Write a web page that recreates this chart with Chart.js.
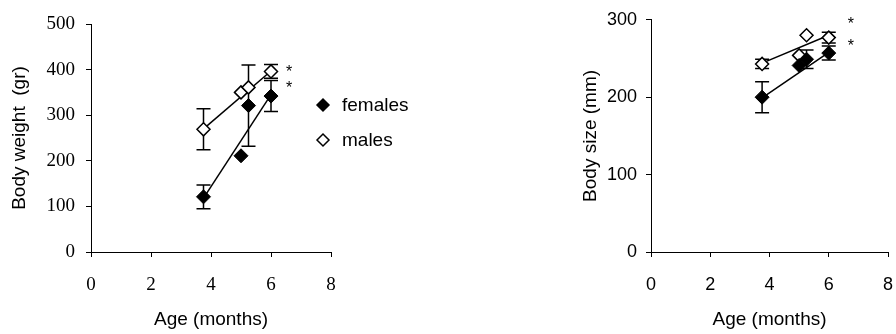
<!DOCTYPE html>
<html>
<head>
<meta charset="utf-8">
<script src="https://cdn.jsdelivr.net/npm/chart.js@4"></script>
<style>
html, body { margin: 0; padding: 0; background: #fff; }
.wrap { display: flex; width: 896px; height: 334px; }
.box { position: relative; width: 448px; height: 334px; }
</style>
</head>
<body>
<div class="wrap">
  <div class="box"><canvas id="weight"></canvas></div>
  <div class="box"><canvas id="size"></canvas></div>
</div>
<script>
// ages sampled (months)
const ages = [3.75, 5, 5.25, 6];
const trendAges = [3.75, 6];
const xTicks = [0, 2, 4, 6, 8];

// body weight (gr)
const femaleWeight = [121, 211, 321, 342];
const femaleWeightErr = [26, 0, 89, 34];
const maleWeight = [269, 350, 361, 396];
const maleWeightErr = [45, 0, 0, 15];
const femaleWeightTrend = [118, 345];
const maleWeightTrend = [270, 397];
const weightStarAge = [6.6, 6.6];
const weightStarVal = [397, 361];

// body size (mm)
const femaleSize = [200, 241, 249, 257];
const femaleSizeErr = [20, 0, 12, 9];
const maleSize = [243, 254, 280, 277];
const maleSizeErr = [6, 0, 0, 7];
const femaleSizeTrend = [199, 258];
const maleSizeTrend = [244, 280];
const sizeStarAge = [6.75, 6.75];
const sizeStarVal = [296, 268];

const legendLabels = ['females', 'males'];

const SANS = "'Liberation Sans', Arial, sans-serif";
const SERIF = "'Liberation Serif', 'Times New Roman', serif";

function pts(xs, ys) {
    return xs.map((x, i) => ({ x: x, y: ys[i] }));
}

const errorBars = {
    id: 'errorBars',
    beforeDatasetsDraw(chart, args, opts) {
        const { ctx, scales: { x, y } } = chart;
        ctx.save();
        ctx.strokeStyle = '#000';
        ctx.lineWidth = 1.5;
        opts.series.forEach((s) => {
            s.values.forEach((v, i) => {
                const e = s.errors[i];
                if (!e) return;
                const px = x.getPixelForValue(ages[i]);
                const top = y.getPixelForValue(v + e);
                const bot = y.getPixelForValue(v - e);
                ctx.beginPath();
                ctx.moveTo(px, top); ctx.lineTo(px, bot);
                ctx.moveTo(px - 7, top); ctx.lineTo(px + 7, top);
                ctx.moveTo(px - 7, bot); ctx.lineTo(px + 7, bot);
                ctx.stroke();
            });
        });
        ctx.restore();
    },
    afterDatasetsDraw(chart, args, opts) {
        const { ctx, scales: { x, y } } = chart;
        ctx.save();
        ctx.fillStyle = '#000';
        ctx.font = '16px ' + SANS;
        ctx.textAlign = 'center';
        ctx.textBaseline = 'alphabetic';
        opts.starX.forEach((sx, i) => {
            ctx.fillText('*', x.getPixelForValue(sx), y.getPixelForValue(opts.starY[i]) + 6);
        });
        ctx.restore();
    }
};

function diamond(ctx, cx, cy, r, filled) {
    ctx.beginPath();
    ctx.moveTo(cx - r, cy); ctx.lineTo(cx, cy - r);
    ctx.lineTo(cx + r, cy); ctx.lineTo(cx, cy + r);
    ctx.closePath();
    ctx.fillStyle = filled ? '#000' : '#fff';
    ctx.fill();
    ctx.lineWidth = 1.5;
    ctx.strokeStyle = '#000';
    ctx.stroke();
}

const sideLegend = {
    id: 'sideLegend',
    afterDraw(chart, args, opts) {
        if (!opts.show) return;
        const ctx = chart.ctx;
        ctx.save();
        ctx.font = '19px ' + SANS;
        ctx.textBaseline = 'middle';
        ctx.textAlign = 'left';
        legendLabels.forEach((lab, i) => {
            const cy = 105 + i * 35;
            diamond(ctx, 323, cy, 6, i === 0);
            ctx.fillStyle = '#000';
            ctx.fillText(lab, 342, cy + 1);
        });
        ctx.restore();
    }
};

function makeChart(id, s) {
    return new Chart(document.getElementById(id), {
        type: 'scatter',
        data: {
            datasets: [
                {
                    label: 'females', data: pts(ages, s.female),
                    pointStyle: 'rectRot', pointRadius: 7, pointBackgroundColor: '#000',
                    pointBorderColor: '#000', pointBorderWidth: 1, showLine: false
                },
                {
                    label: 'males', data: pts(ages, s.male),
                    pointStyle: 'rectRot', pointRadius: 6.5, pointBackgroundColor: '#fff',
                    pointBorderColor: '#000', pointBorderWidth: 1.5, showLine: false
                },
                {
                    label: 'females trend', data: pts(trendAges, s.femaleTrend),
                    showLine: true, pointRadius: 0, borderColor: '#000', borderWidth: 1.5
                },
                {
                    label: 'males trend', data: pts(trendAges, s.maleTrend),
                    showLine: true, pointRadius: 0, borderColor: '#000', borderWidth: 1.5
                }
            ]
        },
        options: {
            responsive: true,
            maintainAspectRatio: false,
            animation: false,
            layout: { padding: { left: s.padLeft, right: s.padRight, top: s.padTop, bottom: 0 } },
            plugins: {
                legend: { display: false },
                tooltip: { enabled: false },
                errorBars: {
                    series: [
                        { values: s.female, errors: s.femaleErr },
                        { values: s.male, errors: s.maleErr }
                    ],
                    starX: s.starX, starY: s.starY
                },
                sideLegend: { show: s.legend }
            },
            scales: {
                x: {
                    type: 'linear', min: 0, max: 8,
                    afterBuildTicks: (scale) => { scale.ticks = xTicks.map((v) => ({ value: v })); },
                    afterFit: (scale) => {
                        scale.height = 82;
                        scale.paddingLeft = 0;
                        scale.paddingRight = 0;
                    },
                    ticks: { color: '#000', font: { family: s.tickFamily, size: s.tickSize }, padding: 17 },
                    grid: { drawOnChartArea: false, color: '#000', tickLength: 5, lineWidth: 1 },
                    border: { color: '#000', width: 1 },
                    title: {
                        display: true, text: 'Age (months)', color: '#000',
                        font: { family: SANS, size: 19 }, padding: { top: 0, bottom: 3 }
                    }
                },
                y: {
                    min: 0, max: s.yMax,
                    afterFit: (scale) => { scale.width = s.yWidth; },
                    ticks: { stepSize: 100, color: '#000', font: { family: s.tickFamily, size: s.tickSize }, padding: s.yTickPad },
                    grid: { drawOnChartArea: false, color: '#000', tickLength: 5, lineWidth: 1 },
                    border: { color: '#000', width: 1 },
                    title: {
                        display: true, text: s.yTitle, color: '#000',
                        font: { family: SANS, size: 19 }, padding: { top: s.yTitlePad, bottom: 0 }
                    }
                }
            }
        },
        plugins: [errorBars, sideLegend]
    });
}

makeChart('weight', {
    female: femaleWeight, femaleErr: femaleWeightErr,
    male: maleWeight, maleErr: maleWeightErr,
    femaleTrend: femaleWeightTrend, maleTrend: maleWeightTrend,
    starX: weightStarAge, starY: weightStarVal,
    yMax: 500, yTitle: 'Body weight  (gr)',
    padLeft: 0, padRight: 117, padTop: 24,
    yWidth: 91, yTickPad: 11, yTitlePad: 8,
    tickFamily: SERIF, tickSize: 19, legend: true
});

makeChart('size', {
    female: femaleSize, femaleErr: femaleSizeErr,
    male: maleSize, maleErr: maleSizeErr,
    femaleTrend: femaleSizeTrend, maleTrend: maleSizeTrend,
    starX: sizeStarAge, starY: sizeStarVal,
    yMax: 300, yTitle: 'Body size (mm)',
    padLeft: 120, padRight: 5, padTop: 17,
    yWidth: 83, yTickPad: 9, yTitlePad: 11,
    tickFamily: SANS, tickSize: 18, legend: false
});
</script>
</body>
</html>
